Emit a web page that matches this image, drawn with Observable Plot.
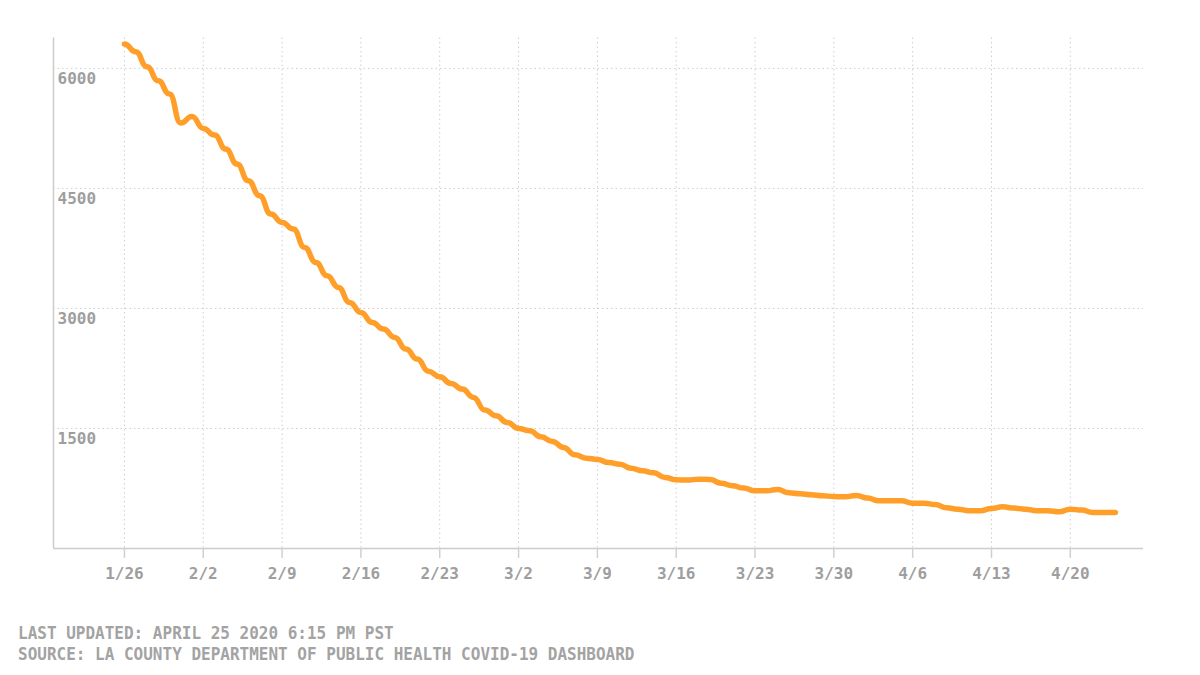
<!DOCTYPE html>
<html>
<head>
<meta charset="utf-8">
<script src="https://cdn.jsdelivr.net/npm/d3@7"></script>
<script src="https://cdn.jsdelivr.net/npm/@observablehq/plot@0.6"></script>
<style>
  html, body { margin: 0; padding: 0; background: #fff; }
  #wrap { position: relative; width: 1200px; height: 675px; }
  #footer {
    position: absolute; left: 18px; top: 622px;
    font-family: "DejaVu Sans Mono", monospace; font-size: 16px; line-height: 21px;
    color: #a3a3a3; font-weight: bold; white-space: nowrap;
  }
  #footer div { transform: scaleY(1.1); transform-origin: left center; }
</style>
</head>
<body>
<div id="wrap">
  <div id="chart"></div>
  <div id="footer">
    <div>LAST UPDATED: APRIL 25 2020 6:15 PM PST</div>
    <div>SOURCE: LA COUNTY DEPARTMENT OF PUBLIC HEALTH COVID-19 DASHBOARD</div>
  </div>
</div>
<script>
// Weekly tick labels (one every 7 days, starting 1/26)
const tickLabels = ["1/26","2/2","2/9","2/16","2/23","3/2","3/9","3/16","3/23","3/30","4/6","4/13","4/20"];
const tickDays = tickLabels.map((_, i) => i * 7);
const yTicks = [1500, 3000, 4500, 6000];
// Daily values from 1/26 (day 0) to 4/24 (day 88)
const values = [
  6305, 6209, 6021, 5846, 5680, 5317, 5400, 5250, 5167, 4992,
  4805, 4596, 4409, 4180, 4075, 3992, 3763, 3575, 3409, 3263,
  3075, 2950, 2825, 2742, 2638, 2492, 2367, 2215, 2146, 2063,
  1992, 1888, 1730, 1659, 1575, 1500, 1471, 1396, 1338, 1263,
  1171, 1129, 1113, 1075, 1054, 1004, 971, 946, 888, 859,
  855, 867, 863, 815, 784, 755, 721, 721, 738, 696,
  684, 671, 659, 650, 646, 663, 630, 596, 596, 596,
  567, 567, 550, 509, 492, 471, 471, 500, 521, 505,
  492, 471, 471, 459, 492, 480, 450, 450, 450
];
const data = values.map((v, i) => ({day: i, value: v}));
const xDomain = [-6.3, 90.5];

const chart = Plot.plot({
  width: 1200,
  height: 600,
  marginLeft: 53,
  marginRight: 57,
  marginTop: 37.5,
  marginBottom: 52,
  style: {fontFamily: "DejaVu Sans Mono, monospace", fontSize: "16px", color: "#9e9e9e", background: "#fff"},
  x: {domain: xDomain, label: null},
  y: {domain: [0, 6380], label: null},
  marks: [
    Plot.gridX({ticks: tickDays, stroke: "#cfcfcf", strokeOpacity: 1, strokeDasharray: "1.5,3"}),
    Plot.gridY({ticks: yTicks, stroke: "#cfcfcf", strokeOpacity: 1, strokeDasharray: "1.5,3"}),
    Plot.ruleY([0], {stroke: "#cccccc", strokeWidth: 1.5}),
    Plot.ruleX([xDomain[0]], {stroke: "#cccccc", strokeWidth: 1.5}),
    Plot.axisX({ticks: tickDays, tickFormat: d => tickLabels[Math.round(d / 7)], tickSize: 10, tickPadding: 9, stroke: "#d0d0d0", strokeWidth: 1.5, fontWeight: "bold", label: null}),
    Plot.axisY({ticks: yTicks, tickFormat: d => String(d), tickSize: 0, tickPadding: 0, textAnchor: "start", dx: 4, dy: 10, fontWeight: "bold", label: null}),
    Plot.line(data, {x: "day", y: "value", curve: "bump-x", stroke: "#ff9f2a", strokeWidth: 5.5, strokeLinecap: "round", strokeLinejoin: "round"})
  ]
});
document.getElementById("chart").appendChild(chart);
</script>
</body>
</html>
